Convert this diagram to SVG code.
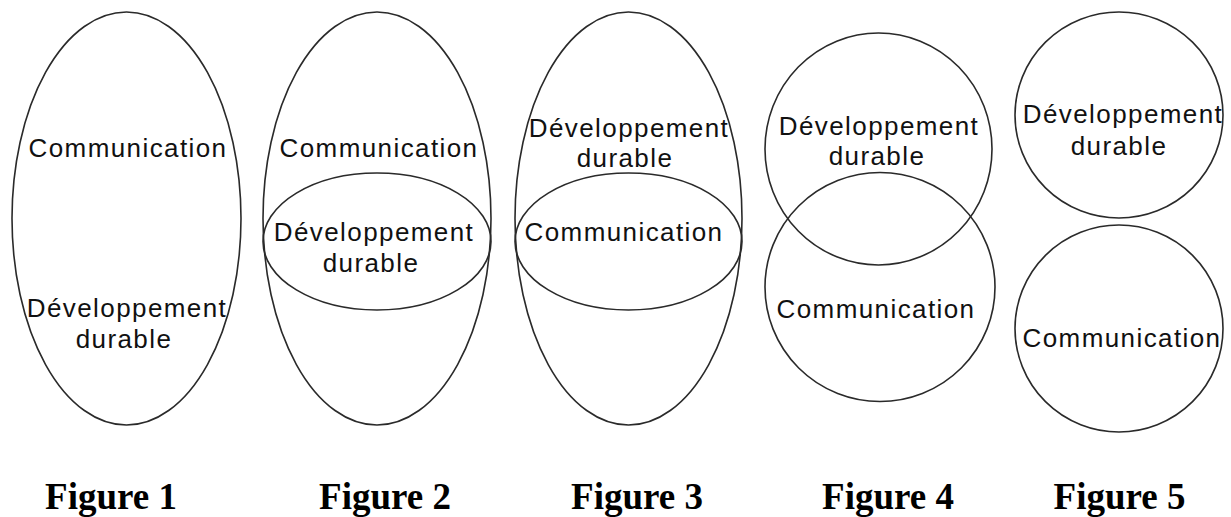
<svg xmlns="http://www.w3.org/2000/svg" width="1231" height="517" viewBox="0 0 1231 517">
<style>
.sh{fill:none;stroke:#2a2a2a;stroke-width:1.6}
.lb{font-family:"Liberation Sans",Arial,sans-serif;font-size:26px;letter-spacing:1.4px;fill:#111;text-anchor:middle}
.cap{font-family:"Liberation Serif","Times New Roman",serif;font-weight:bold;font-size:37px;fill:#000;text-anchor:middle}
</style>
<rect width="1231" height="517" fill="#fff"/>
<g id="figure1">
<ellipse class="sh" cx="126.5" cy="218.5" rx="114.5" ry="206.5"/>
<text class="lb" x="128" y="157">Communication</text>
<text class="lb" x="127" y="317">Développement</text>
<text class="lb" x="124" y="348">durable</text>
<text class="cap" x="111" y="509">Figure 1</text>
</g>
<g id="figure2">
<ellipse class="sh" cx="377" cy="218.5" rx="114" ry="206.5"/>
<ellipse class="sh" cx="377" cy="241.5" rx="114" ry="68.5"/>
<text class="lb" x="379" y="157">Communication</text>
<text class="lb" x="374" y="241">Développement</text>
<text class="lb" x="371" y="272">durable</text>
<text class="cap" x="385" y="509">Figure 2</text>
</g>
<g id="figure3">
<ellipse class="sh" cx="628.5" cy="218.5" rx="113.5" ry="206.5"/>
<ellipse class="sh" cx="628.5" cy="241.5" rx="113.5" ry="68.5"/>
<text class="lb" x="629" y="137">Développement</text>
<text class="lb" x="625" y="167">durable</text>
<text class="lb" x="624" y="241">Communication</text>
<text class="cap" x="637" y="509">Figure 3</text>
</g>
<g id="figure4">
<ellipse class="sh" cx="878.5" cy="149" rx="113.5" ry="116"/>
<ellipse class="sh" cx="880" cy="287" rx="115" ry="114.5"/>
<text class="lb" x="879" y="135">Développement</text>
<text class="lb" x="877" y="165">durable</text>
<text class="lb" x="876" y="318">Communication</text>
<text class="cap" x="888" y="509">Figure 4</text>
</g>
<g id="figure5">
<ellipse class="sh" cx="1119" cy="115" rx="104" ry="103"/>
<ellipse class="sh" cx="1119" cy="328.5" rx="104" ry="103.5"/>
<text class="lb" x="1123" y="123">Développement</text>
<text class="lb" x="1119" y="155">durable</text>
<text class="lb" x="1122" y="347">Communication</text>
<text class="cap" x="1119.5" y="509">Figure 5</text>
</g>
<g id="connectors"></g>
</svg>
